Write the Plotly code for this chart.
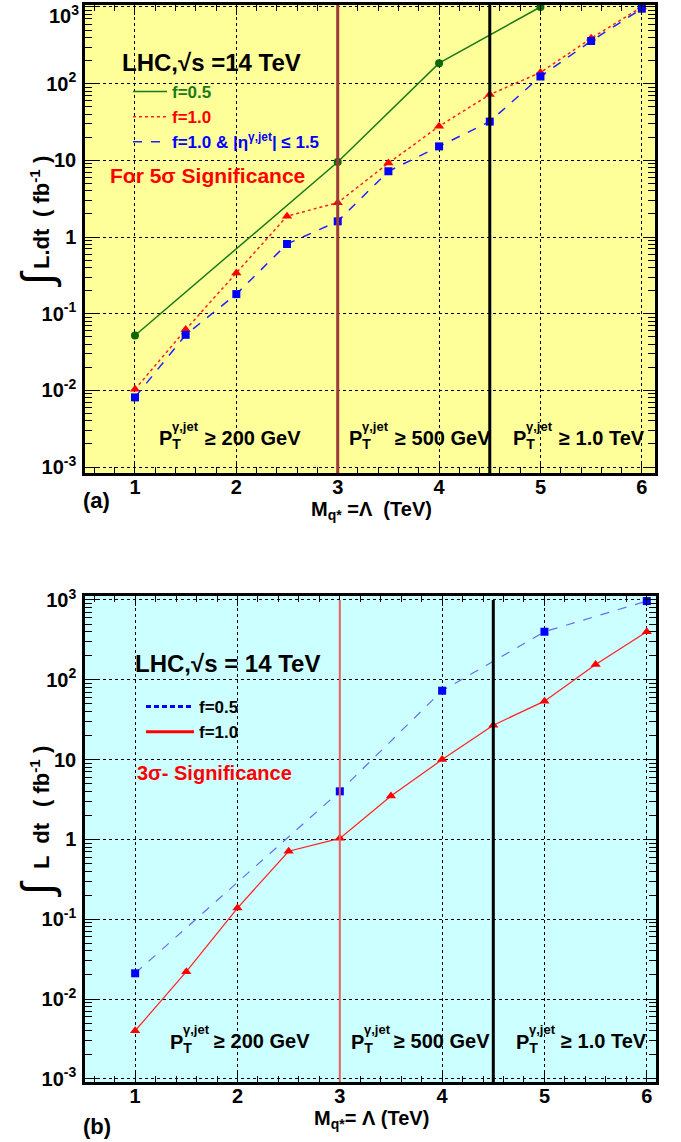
import plotly.graph_objects as go

W, H = 681, 1142
FONT = "Liberation Sans, Arial, Helvetica, sans-serif"

# ---------------- data: panel (a) 5 sigma ----------------
mass_a_f05 = [1, 3, 4, 5]
lumi_a_f05 = [0.052, 9.5, 185, 1000]
mass_a = [1, 1.5, 2, 2.5, 3, 3.5, 4, 4.5, 5, 5.5, 6]
lumi_a_f10 = [0.0103, 0.062, 0.34, 1.87, 2.8, 9.2, 27.8, 72, 140, 390, 1000]
lumi_a_f10_eta = [0.0081, 0.053, 0.18, 0.81, 1.6, 7.2, 15.2, 32, 124, 360, 950]

# ---------------- data: panel (b) 3 sigma ----------------
mass_b_f05 = [1, 3, 4, 5, 6]
lumi_b_f05 = [0.021, 4.0, 73, 400, 970]
mass_b = [1, 1.5, 2, 2.5, 3, 3.5, 4, 4.5, 5, 5.5, 6]
lumi_b_f10 = [0.004, 0.022, 0.138, 0.71, 1.03, 3.5, 10, 27, 54, 155, 400]

pt_cut_masses = [3.0, 4.5]
x_tick_vals = [1, 2, 3, 4, 5, 6]
x_minor_vals = [0.6, 0.8, 1.2, 1.4, 1.6, 1.8, 2.2, 2.4, 2.6, 2.8, 3.2, 3.4, 3.6, 3.8,
                4.2, 4.4, 4.6, 4.8, 5.2, 5.4, 5.6, 5.8, 6.2]
y_tick_vals = [1e-3, 1e-2, 1e-1, 1, 10, 100, 1000]
y_tick_text = ["<b>10<sup>-3</sup></b>", "<b>10<sup>-2</sup></b>", "<b>10<sup>-1</sup></b>",
               "<b>1</b>", "<b>10</b>", "<b>10<sup>2</sup></b>", "<b>10<sup>3</sup></b>"]
y_minor_vals = [k * 10.0 ** d for d in range(-3, 3) for k in range(2, 10)]
pt_cut_labels = ["≥ 200 GeV", "≥ 500 GeV", "≥ 1.0 TeV"]


def px(x):
    return x / W


def py(y):
    return 1 - y / H


fig = go.Figure()

# panel (a) traces
fig.add_trace(go.Scatter(x=mass_a_f05, y=lumi_a_f05, mode="lines+markers", xaxis="x", yaxis="y",
                         line=dict(color="#1a7a1a", width=1.5),
                         marker=dict(symbol="circle", size=8, color="#0a6a0a"), showlegend=False))
fig.add_trace(go.Scatter(x=mass_a, y=lumi_a_f10, mode="lines+markers", xaxis="x", yaxis="y",
                         line=dict(color="#ff2020", width=1.5, dash="dot"),
                         marker=dict(symbol="triangle-up", size=9, color="#ff0000"), showlegend=False))
fig.add_trace(go.Scatter(x=mass_a, y=lumi_a_f10_eta, mode="lines+markers", xaxis="x", yaxis="y",
                         line=dict(color="#2020ff", width=1.5, dash="dash"),
                         marker=dict(symbol="square", size=8, color="#0000ff"), showlegend=False))
# legend entries (a)
fig.add_trace(go.Scatter(x=[None], y=[None], mode="lines", xaxis="x", yaxis="y", legend="legend",
                         line=dict(color="#1a7a1a", width=1.5),
                         name="<b><span style='color:#1a7a1a'>f=0.5</span></b>"))
fig.add_trace(go.Scatter(x=[None], y=[None], mode="lines", xaxis="x", yaxis="y", legend="legend",
                         line=dict(color="#ff2020", width=1.5, dash="dot"),
                         name="<b><span style='color:#ff0000'>f=1.0</span></b>"))
fig.add_trace(go.Scatter(x=[None], y=[None], mode="lines", xaxis="x", yaxis="y", legend="legend",
                         line=dict(color="#2020ff", width=1.5, dash="dash"),
                         name="<b><span style='color:#0000ff'>f=1.0 &amp; |η<sup>γ,jet</sup>| ≤ 1.5</span></b>"))

# panel (b) traces
fig.add_trace(go.Scatter(x=mass_b_f05, y=lumi_b_f05, mode="lines+markers", xaxis="x2", yaxis="y2",
                         line=dict(color="#6a6af0", width=1.2, dash="dash"),
                         marker=dict(symbol="square", size=8, color="#0000ff"), showlegend=False))
fig.add_trace(go.Scatter(x=mass_b, y=lumi_b_f10, mode="lines+markers", xaxis="x2", yaxis="y2",
                         line=dict(color="#ff2020", width=1.2),
                         marker=dict(symbol="triangle-up", size=9, color="#ff0000"), showlegend=False))
fig.add_trace(go.Scatter(x=[None], y=[None], mode="lines", xaxis="x2", yaxis="y2", legend="legend2",
                         line=dict(color="#0000ff", width=3, dash="5px,3px"), name="<b>f=0.5</b>"))
fig.add_trace(go.Scatter(x=[None], y=[None], mode="lines", xaxis="x2", yaxis="y2", legend="legend2",
                         line=dict(color="#ff0000", width=3), name="<b>f=1.0</b>"))

# vertical Pt-cut lines
vcols_a = ["#9a3a3a", "#000000"]
vcols_b = ["#e86060", "#000000"]
vw_a = [3, 3]
vw_b = [2, 3]
for m, c, w in zip(pt_cut_masses, vcols_a, vw_a):
    fig.add_shape(type="line", xref="x", yref="y domain", x0=m, x1=m, y0=0, y1=1,
                  line=dict(color=c, width=w), layer="above")
for m, c, w in zip(pt_cut_masses, vcols_b, vw_b):
    fig.add_shape(type="line", xref="x2", yref="y2 domain", x0=m, x1=m, y0=0, y1=0.992,
                  line=dict(color=c, width=w), layer="above")

# panel backgrounds
fig.add_shape(type="rect", xref="x domain", yref="y domain", x0=0, x1=1, y0=0, y1=1,
              fillcolor="#ffff99", line=dict(width=0), layer="below")
fig.add_shape(type="rect", xref="x2 domain", yref="y2 domain", x0=0, x1=1, y0=0, y1=1,
              fillcolor="#ccffff", line=dict(width=0), layer="below")


def xaxis(domain, rng, anchor):
    return dict(domain=domain, range=rng, anchor=anchor, tickvals=x_tick_vals,
                ticktext=[f"<b>{v}</b>" for v in x_tick_vals], automargin=False,
                ticks="inside", ticklen=10, tickwidth=1.2, tickcolor="black",
                showline=True, linewidth=2.5, linecolor="black", mirror="allticks",
                showgrid=True, gridcolor="black", griddash="dot", gridwidth=1,
                zeroline=False, tickfont=dict(family=FONT, size=20, color="black"),
                ticklabelstandoff=-6, ticklabeloverflow="allow",
                minor=dict(tickvals=x_minor_vals, ticks="inside", ticklen=6, tickcolor="black",
                           tickwidth=1, showgrid=False))


def yaxis(domain, rng, anchor, ticktext):
    return dict(domain=domain, range=rng, anchor=anchor, type="log",
                tickvals=y_tick_vals, ticktext=ticktext, automargin=False,
                ticks="inside", ticklen=12, tickwidth=1.2, tickcolor="black",
                showline=True, linewidth=2.5, linecolor="black", mirror="allticks",
                showgrid=True, gridcolor="black", griddash="dot", gridwidth=1,
                zeroline=False, tickfont=dict(family=FONT, size=20, color="black"),
                ticklabelstandoff=2, ticklabeloverflow="allow",
                minor=dict(tickvals=y_minor_vals, ticks="inside", ticklen=7, tickcolor="black",
                           tickwidth=1, showgrid=False))


anns = []


def txt(x, y, text, size, color="black", xanchor="left", angle=0, yanchor="middle"):
    anns.append(dict(x=px(x), y=py(y), xref="paper", yref="paper", text=text, showarrow=False,
                     xanchor=xanchor, yanchor=yanchor, textangle=angle,
                     font=dict(family=FONT, size=size, color=color)))


def pt_label(x_p, x_ge, y, label):
    txt(x_p, y + 2, "<b>P<sub>T</sub></b>", 20)
    txt(x_p + 13, y - 12, "<b>γ,jet</b>", 13)
    txt(x_ge, y, f"<b>{label}</b>", 20)


# top label of panel (a) y axis kept inside the page
txt(81, 0, y_tick_text[-1], 20, xanchor="right", yanchor="top")

# panel (a) texts
txt(120, 62, "<b>LHC,√s =14 TeV</b>", 24)
txt(108, 176, "<b>For 5σ Significance</b>", 21, "#ff0000")
for xp_, xg_, lab in zip([157, 347, 511], [203, 393, 557], pt_cut_labels):
    pt_label(xp_, xg_, 438, lab)
txt(81, 500, "<b>(a)</b>", 22)
txt(371, 510, "<b>M<sub>q*</sub> =Λ  (TeV)</b>", 20, xanchor="center")
txt(37, 279, "∫", 44, xanchor="center", angle=-90)
txt(41, 249, "<b>L.dt</b>", 22, xanchor="center", angle=-90)
txt(40, 187, "<b>( fb<sup>-1</sup> )</b>", 22, xanchor="center", angle=-90)

# panel (b) texts
txt(133, 663, "<b>LHC,√s = 14 TeV</b>", 24)
txt(135, 773, "<b>3σ- Significance</b>", 20, "#ff0000")
for xp_, xg_, lab in zip([168, 349, 514], [212, 392, 559], pt_cut_labels):
    pt_label(xp_, xg_, 1041, lab)
txt(81, 1126, "<b>(b)</b>", 22)
txt(371, 1119, "<b>M<sub>q*</sub>= Λ (TeV)</b>", 20, xanchor="center")
txt(37, 889, "∫", 44, xanchor="center", angle=-90)
txt(41, 846, "<b>L  dt</b>", 22, xanchor="center", angle=-90)
txt(40, 777, "<b>( fb<sup>-1</sup> )</b>", 22, xanchor="center", angle=-90)

fig.update_layout(
    width=W, height=H, margin=dict(l=0, r=0, t=0, b=0, autoexpand=False),
    paper_bgcolor="white", plot_bgcolor="rgba(0,0,0,0)",
    font=dict(family=FONT, color="black"),
    xaxis=xaxis([px(85), px(655)], [0.507, 6.13], "y"),
    yaxis=yaxis([py(473), py(5)], [-3.078, 3.026], "x", y_tick_text[:-1] + [""]),
    xaxis2=xaxis([px(85), px(656)], [0.51, 6.09], "y2"),
    yaxis2=yaxis([py(1082), py(596)], [-3.04, 3.05], "x2", y_tick_text),
    legend=dict(x=px(128), y=py(74), xanchor="left", yanchor="top", bgcolor="rgba(0,0,0,0)",
                font=dict(family=FONT, size=17), tracegroupgap=0, itemwidth=34),
    legend2=dict(x=px(141), y=py(689), xanchor="left", yanchor="top", bgcolor="rgba(0,0,0,0)",
                 font=dict(family=FONT, size=17), tracegroupgap=0, itemwidth=48),
    annotations=anns,
)

fig.write_html("out.html", config={"displayModeBar": False},
               post_script="document.body.style.margin='0';")
